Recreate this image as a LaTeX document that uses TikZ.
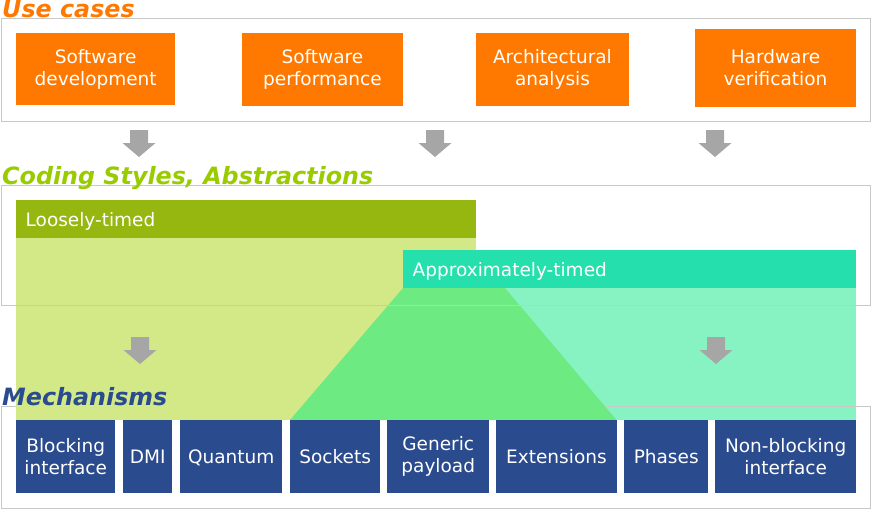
\documentclass[tikz,border=0pt]{standalone}
\usepackage{fontspec}
\setmainfont{DejaVu Sans}
\definecolor{framegray}{HTML}{C8C8C8}
\definecolor{arrowgray}{HTML}{A6A6A6}
\definecolor{ucorange}{HTML}{FF7900}
\definecolor{ltdark}{HTML}{95B70F}
\definecolor{ltlight}{HTML}{D3E988}
\definecolor{atdark}{HTML}{25E0AC}
\definecolor{atlight}{HTML}{88F3C2}
\definecolor{overlap}{HTML}{6EEA83}
\definecolor{mechblue}{HTML}{2A4B8E}
\definecolor{csgreen}{HTML}{99CC00}
\begin{document}
\begin{tikzpicture}[x=1pt,y=-1pt,
  frame/.style={draw=framegray, line width=1.3pt, inner sep=0pt, anchor=north west},
  box/.style={inner sep=0pt, anchor=north west, align=center, text=white,
    font=\fontsize{18.5}{22}\selectfont},
  usecase/.style={box, fill=ucorange},
  mech/.style={box, fill=mechblue, minimum height=73pt},
  hdr/.style={anchor=north west, inner xsep=9.5pt, inner ysep=0pt, align=left,
    text=white, minimum height=38pt, text height=14pt, text depth=0pt,
    font=\fontsize{18.5}{22}\selectfont},
  title/.style={anchor=base west, inner sep=0pt,
    font=\fontsize{23.8}{28}\selectfont\bfseries\itshape},
  downarrow/.pic={\fill[arrowgray] (-9,0) -- (9,0) -- (9,13) -- (16.5,13)
    -- (0,27) -- (-16.5,13) -- (-9,13) -- cycle;}]
\useasboundingbox (0,0) rectangle (871,509);

% --- Use cases ---
\node[frame, minimum width=869pt, minimum height=103pt] (ucframe) at (1,18) {};
\node[title, text=ucorange] (uctitle) at (2,17) {Use cases};
\node[usecase, minimum width=159pt, minimum height=72.5pt] (swdev) at (16,32.5) {Software\\development};
\node[usecase, minimum width=160.5pt, minimum height=73pt] (swperf) at (242,32.3) {Software\\performance};
\node[usecase, minimum width=152.5pt, minimum height=73pt] (arch) at (476,32.3) {Architectural\\analysis};
\node[usecase, minimum width=160.5pt, minimum height=77.5pt] (hwver) at (695,29) {Hardware\\verification};

\pic at (139,130) {downarrow};
\pic at (435,130) {downarrow};
\pic at (715,130) {downarrow};

% --- Coding styles: bodies, overlap and frames ---
\fill[atlight] (403,288) rectangle (856,420);
\node[frame, minimum width=869pt, minimum height=102pt] (mechframe) at (1,406) {};
\fill[ltlight] (16,238) rectangle (476,420);
\fill[overlap] (403,288) -- (505,288) -- (616.5,420) -- (290,420) -- cycle;
\node[frame, minimum width=869pt, minimum height=120pt] (csframe) at (1,185) {};
\node[title, text=csgreen] (cstitle) at (2,184) {Coding Styles, Abstractions};
\node[hdr, fill=ltdark, text width=441pt] (lt) at (16,200) {Loosely-timed};
\node[hdr, fill=atdark, text width=434pt] (at) at (403,250) {Approximately-timed};

\pic at (140,337) {downarrow};
\pic at (716,337) {downarrow};

% --- Mechanisms ---
\node[title, text=mechblue] (mechtitle) at (2,405) {Mechanisms};
\node[mech, minimum width=99pt] (blocking) at (16,420) {Blocking\\interface};
\node[mech, minimum width=49pt] (dmi) at (123,420) {DMI};
\node[mech, minimum width=102pt, text depth=0pt] (quantum) at (180,420) {Quantum};
\node[mech, minimum width=90pt] (sockets) at (290,420) {Sockets};
\node[mech, minimum width=102pt] (payload) at (387,420) {Generic\\payload};
\node[mech, minimum width=120.5pt] (ext) at (496,420) {Extensions};
\node[mech, minimum width=84pt] (phases) at (624,420) {Phases};
\node[mech, minimum width=141pt] (nonblocking) at (715,420) {Non-blocking\\interface};
\end{tikzpicture}
\end{document}
